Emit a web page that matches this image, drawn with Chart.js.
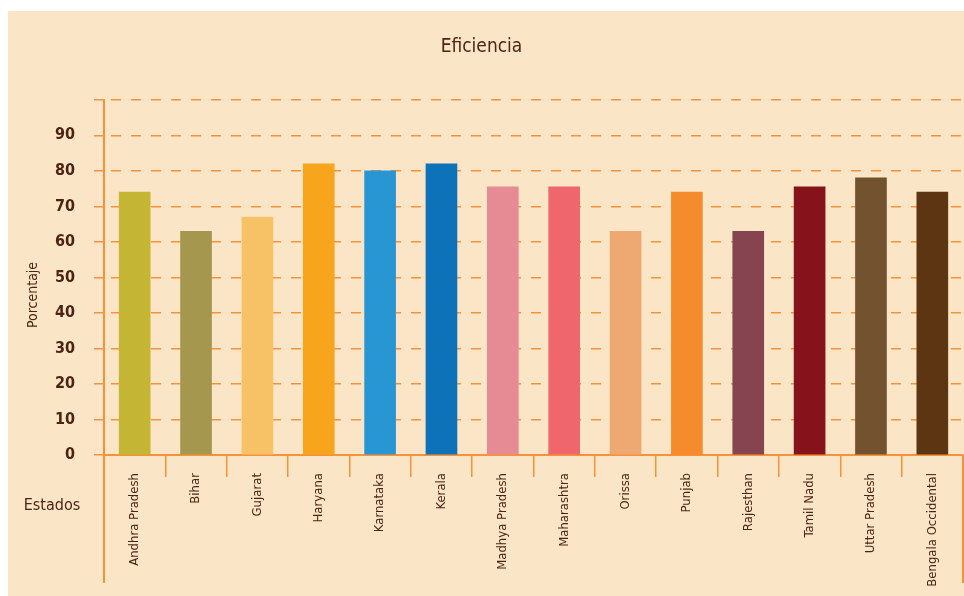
<!DOCTYPE html>
<html>
<head>
<meta charset="utf-8">
<title>Eficiencia</title>
<script src="https://cdn.jsdelivr.net/npm/chart.js@4.4.0/dist/chart.umd.min.js"></script>
<style>
  html, body { margin: 0; padding: 0; background: #ffffff; }
  #panel { position: absolute; left: 8px; top: 11px; width: 956px; height: 585px; background: #FAE6C6; }
  #chart { position: absolute; left: 0; top: 0; }
</style>
</head>
<body>
<div id="panel"></div>
<canvas id="chart" width="964" height="596"></canvas>
<script>
// Chart data
const categories = [
  'Andhra Pradesh', 'Bihar', 'Gujarat', 'Haryana', 'Karnataka', 'Kerala',
  'Madhya Pradesh', 'Maharashtra', 'Orissa', 'Punjab', 'Rajesthan',
  'Tamil Nadu', 'Uttar Pradesh', 'Bengala Occidental'
];
const efficiency = [74, 63, 67, 82, 80, 82, 75.5, 75.5, 63, 74, 63, 75.5, 78, 74];
const barColors = [
  '#C4B534', '#A6974F', '#F7C266', '#F8A51E', '#2896D3', '#0E72B9', '#E68A93',
  '#F0666D', '#EEA872', '#F68B2D', '#85444F', '#86131B', '#735230', '#5E3513'
];
const yMin = 0;
const yMax = 100;
const yStep = 10;

const ORANGE = '#F7923A';
const TEXT = '#4C2415';
const FONT = "'DejaVu Sans Condensed', 'Liberation Sans Narrow', sans-serif";

// Axis lines running down past the category labels + side labels
const framePlugin = {
  id: 'frame',
  afterDraw(chart) {
    const ctx = chart.ctx;
    const area = chart.chartArea;
    ctx.save();
    ctx.strokeStyle = ORANGE;
    ctx.lineWidth = 2;
    ctx.beginPath();
    ctx.moveTo(area.left, area.bottom);
    ctx.lineTo(area.left, 583);
    ctx.moveTo(area.right, area.bottom);
    ctx.lineTo(area.right, 583);
    ctx.stroke();

    ctx.fillStyle = TEXT;
    ctx.textAlign = 'center';
    ctx.textBaseline = 'middle';
    ctx.font = '14px ' + FONT;
    ctx.translate(33, 295);
    ctx.rotate(-Math.PI / 2);
    ctx.fillText('Porcentaje', 0, 0);
    ctx.restore();

    ctx.save();
    ctx.fillStyle = TEXT;
    ctx.textAlign = 'center';
    ctx.textBaseline = 'middle';
    ctx.font = '16px ' + FONT;
    ctx.fillText('Estados', 52, 506);
    ctx.restore();
  }
};

const ctx = document.getElementById('chart').getContext('2d');
new Chart(ctx, {
  type: 'bar',
  data: {
    labels: categories,
    datasets: [{
      label: 'Eficiencia',
      data: efficiency,
      backgroundColor: barColors,
      borderWidth: 0,
      barThickness: 31
    }]
  },
  options: {
    responsive: false,
    animation: false,
    devicePixelRatio: 1,
    layout: {
      padding: { left: 0, right: 1, top: 0, bottom: 0 }
    },
    plugins: {
      legend: { display: false },
      tooltip: { enabled: false },
      title: {
        display: true,
        text: 'Eficiencia',
        color: TEXT,
        font: { family: FONT, size: 19, weight: 'normal', lineHeight: 1.2 },
        padding: { top: 36, bottom: 41 }
      }
    },
    scales: {
      x: {
        afterFit: function(scale) { scale.height = 141; },
        grid: {
          offset: true,
          drawOnChartArea: false,
          drawTicks: true,
          tickLength: 22,
          color: ORANGE,
          lineWidth: 1.5
        },
        border: { display: true, color: ORANGE, width: 2 },
        ticks: {
          autoSkip: false,
          maxRotation: 90,
          minRotation: 90,
          padding: -4,
          color: TEXT,
          font: { family: FONT, size: 13 }
        }
      },
      y: {
        min: yMin,
        max: yMax,
        afterFit: function(scale) { scale.width = 104; },
        grid: {
          color: ORANGE,
          lineWidth: 1.5,
          tickLength: 10,
          tickColor: ORANGE
        },
        border: { display: true, color: ORANGE, width: 2, dash: [10, 10], dashOffset: 14 },
        ticks: {
          stepSize: yStep,
          padding: 19,
          color: TEXT,
          font: { family: FONT, size: 16, weight: 'bold' },
          callback: function(value) {
            return value === yMax ? '' : value;
          }
        }
      }
    }
  },
  plugins: [framePlugin]
});
</script>
</body>
</html>
